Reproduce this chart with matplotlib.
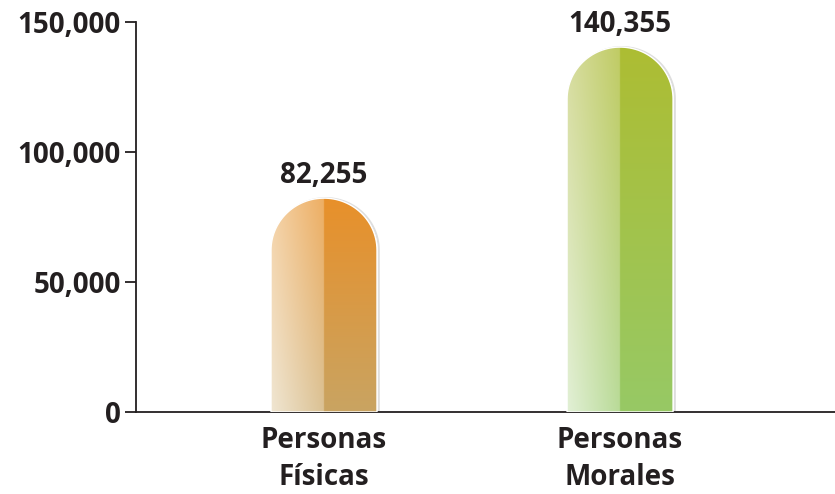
import matplotlib
matplotlib.use("Agg")
import matplotlib.pyplot as plt
import numpy as np
from matplotlib.path import Path
from matplotlib.patches import PathPatch

categories = ["Personas\nFísicas", "Personas\nMorales"]
values = [82255, 140355]
value_labels = ["82,255", "140,355"]
y_ticks = [0, 50000, 100000, 150000]
y_tick_labels = ["0", "50,000", "100,000", "150,000"]

# colours: (right top, right bottom, left-edge top, left-edge bottom)
bar_colors = [
    ("#E8902A", "#C9A462", "#F5D3A8", "#F0E6D2"),
    ("#ADBD33", "#97C965", "#D8DDA0", "#E2F0D6"),
]

plt.rcParams["font.family"] = ["Open Sans", "DejaVu Sans"]
TEXT = "#231F20"


def hex_rgb(h):
    h = h.lstrip("#")
    return np.array([int(h[i:i + 2], 16) / 255 for i in (0, 2, 4)])


def bar_image(colors, n=200):
    rt, rb, lt, lb = [hex_rgb(c) for c in colors]
    v = np.linspace(1, 0, n)[:, None, None]  # top row first
    u = np.linspace(0, 1, n)[None, :, None]
    right = rb + (rt - rb) * v
    ledge = lb + (lt - lb) * v
    lmid = ledge + (right - ledge) * 0.55
    t = np.clip(u / 0.5, 0, 1)
    left = ledge + (lmid - ledge) * t
    img = np.where(u >= 0.5, right, left)
    return img


fig = plt.figure(figsize=(8.35, 4.94), dpi=100)
ax = fig.add_axes([136 / 835, 82 / 494, 699 / 835, 390 / 494])
ax.set_xlim(-0.635, 1.726)
ax.set_ylim(0, 150000)

width = 0.358
fig.canvas.draw()
px_per_unit_y = ax.transData.transform((0, 1000))[1] - ax.transData.transform((0, 0))[1]
cap_h = 52 / px_per_unit_y * 1000

for i, (val, cols) in enumerate(zip(values, bar_colors)):
    x0, x1 = i - width / 2, i + width / 2
    r = width / 2
    base = val - cap_h
    ang = np.linspace(np.pi, 0, 60)
    verts = [(x0, 0), (x0, base)]
    verts += [(i + r * np.cos(a), base + cap_h * np.sin(a)) for a in ang]
    verts += [(x1, 0), (x0, 0)]
    codes = [Path.MOVETO] + [Path.LINETO] * (len(verts) - 2) + [Path.CLOSEPOLY]
    path = Path(verts, codes)
    # soft shadow on the right
    shadow = Path([(x + 0.006, y) for x, y in verts], codes)
    ax.add_patch(PathPatch(shadow, facecolor="none", edgecolor="#C8C8C8",
                           linewidth=1.5, alpha=0.6, zorder=2))
    img = ax.imshow(bar_image(cols), extent=(x0, x1, 0, val), aspect="auto",
                    interpolation="bilinear", zorder=3)
    clip = PathPatch(path, facecolor="none", edgecolor="none", transform=ax.transData)
    ax.add_patch(clip)
    img.set_clip_path(clip)
    ax.add_patch(PathPatch(path, facecolor="none", edgecolor="white",
                           linewidth=1.0, zorder=4))
    ax.annotate(value_labels[i], (i, val), xytext=(0, 6), textcoords="offset points",
                ha="center", va="bottom", fontsize=20, fontweight="bold", color=TEXT)

ax.set_xticks([0, 1])
ax.set_xticklabels(categories, fontsize=20, fontweight="bold", color=TEXT,
                   linespacing=1.35)
ax.tick_params(axis="x", length=0, pad=10)
ax.set_yticks(y_ticks)
ax.set_yticklabels(y_tick_labels, fontsize=20, fontweight="bold", color=TEXT)
ax.tick_params(axis="y", length=8, width=1.3, color=TEXT, pad=3)

for side in ("top", "right"):
    ax.spines[side].set_visible(False)
for side in ("left", "bottom"):
    ax.spines[side].set_color(TEXT)
    ax.spines[side].set_linewidth(1.3)

fig.savefig("out.png", dpi=100)
